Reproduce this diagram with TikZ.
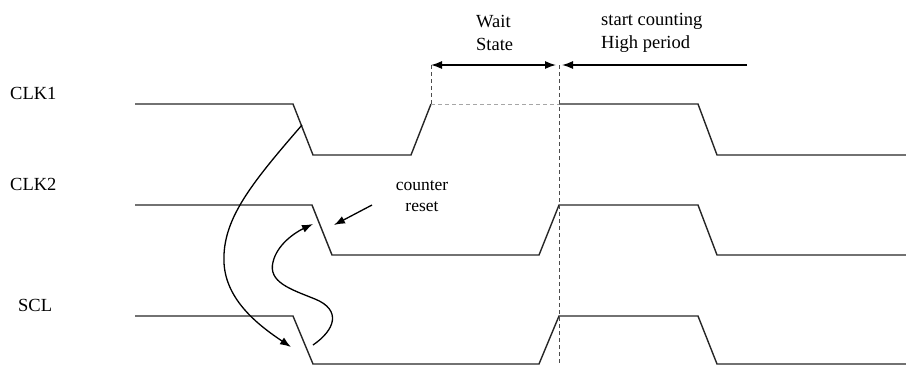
\documentclass[tikz,border=0pt]{standalone}
\usepackage{fontspec}
\setmainfont{Liberation Serif}
\usepackage{tikz}
\usetikzlibrary{arrows.meta}

\tikzset{
  sig/.style={line width=1.4pt, black!85, line join=miter},
  guide/.style={line width=0.9pt, black!70, dash pattern=on 4pt off 3pt},
  span/.style={line width=1.3pt, -{Latex[length=11pt,width=8pt]}},
  lbl/.style={font=\fontsize{18.5}{22.5}\selectfont, inner sep=0pt, align=left},
  hint/.style={line width=1.3pt, -{Latex[length=11pt,width=8pt]}}
}

\begin{document}
\begin{tikzpicture}[x=1pt, y=-1pt]
  \useasboundingbox (0,0) rectangle (906,365);

  % signal names
  \node[lbl, anchor=west] (clkA) at (10,93)  {CLK1};
  \node[lbl, anchor=west] (clkB) at (10,184) {CLK2};
  \node[lbl, anchor=west] (scl)  at (18,305) {SCL};

  % CLK1: falls, rises early, held (dashed) until the wait state ends
  \draw[sig] (135,104) -- (293,104) -- (313,155) -- (411,155) -- (431,104);
  \draw[sig, gray!70, line width=1pt, dash pattern=on 4pt off 3pt] (431,104) -- (559,104);
  \draw[sig] (559,104) -- (698,104) -- (717,155) -- (906,155);

  % CLK2
  \draw[sig] (135,205) -- (312,205) -- (332,255) -- (539,255) -- (559,205)
    -- (698,205) -- (717,255) -- (906,255);

  % SCL
  \draw[sig] (135,316) -- (293,316) -- (313,364) -- (539,364) -- (559,316)
    -- (698,316) -- (717,364) -- (906,364);

  % wait state / high period markers
  \coordinate (wsL) at (431,65);
  \coordinate (wsR) at (556,65);
  \coordinate (hpL) at (562,65);
  \coordinate (hpR) at (747,65);
  \draw[guide] (431,65) -- (431,104);
  \draw[guide] (559,65) -- (559,365);
  \draw[span] (495,65) -- (wsL);
  \draw[span] (495,65) -- (wsR);
  \draw[span] (hpR) -- (hpL);
  \node[lbl, anchor=west] (wait) at (476,33) {Wait\\State};
  \node[lbl, anchor=west] (high) at (601,33) {start counting\\High period};

  % counter reset note
  \node[lbl, align=center, font=\fontsize{17.5}{21.5}\selectfont] (reset) at (422,196) {counter\\reset};
  \coordinate (resetTail) at (372,205);
  \coordinate (resetTip)  at (334,225);
  \draw[hint] (resetTail) -- (resetTip);

  % CLK1 fall -> SCL fall
  \coordinate (aFrom) at (302,125);
  \coordinate (aTo)   at (291,347);
  \draw[hint] (aFrom) .. controls (250,185) and (222,220) .. (224,263)
    .. controls (226,300) and (258,325) .. (aTo);

  % SCL -> CLK2 fall
  \coordinate (bFrom) at (313,345);
  \coordinate (bTo)   at (313,224);
  \draw[hint] (bFrom) .. controls (335,330) and (342,310) .. (315,299)
    .. controls (290,289) and (268,282) .. (273,262)
    .. controls (277,245) and (294,233) .. (bTo);
\end{tikzpicture}
\end{document}
